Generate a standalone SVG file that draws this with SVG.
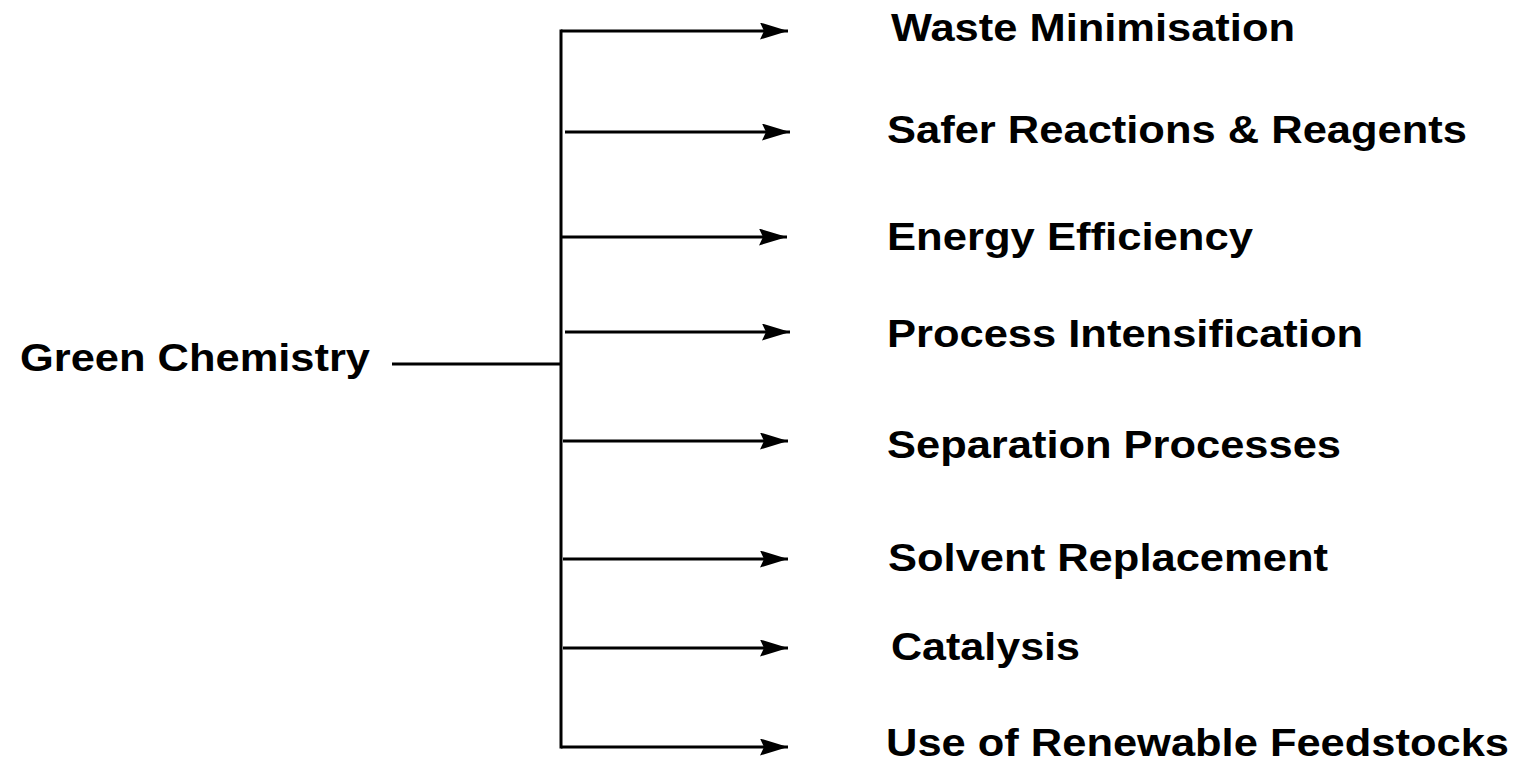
<svg xmlns="http://www.w3.org/2000/svg" width="1516" height="763" viewBox="0 0 1516 763">
<defs>
<style>
.lbl{font-family:"Liberation Sans",Arial,sans-serif;font-weight:bold;font-size:39px;fill:#000}
.ln{stroke:#000;stroke-width:3;fill:none}
.arr{stroke:#000;stroke-width:3;fill:none;marker-end:url(#ah)}
</style>
<marker id="ah" markerUnits="userSpaceOnUse" markerWidth="30" markerHeight="18" refX="28" refY="8.5" orient="auto" viewBox="0 0 30 18">
<path d="M0,0 L28,8.5 L0,17 L4,8.5 Z" fill="#000"/>
</marker>
</defs>
<rect width="1516" height="763" fill="#fff"/>
<g id="connectors">
<line class="ln" x1="392" y1="364" x2="561" y2="364"/>
<line class="ln" x1="561" y1="29.5" x2="561" y2="748.5"/>
<line class="arr" x1="561" y1="31" x2="788" y2="31"/>
<line class="arr" x1="565" y1="132" x2="790" y2="132"/>
<line class="arr" x1="560" y1="237" x2="787" y2="237"/>
<line class="arr" x1="565" y1="332" x2="790" y2="332"/>
<line class="arr" x1="563" y1="441" x2="788" y2="441"/>
<line class="arr" x1="563" y1="559" x2="788" y2="559"/>
<line class="arr" x1="563" y1="648" x2="788" y2="648"/>
<line class="arr" x1="561" y1="747" x2="788" y2="747"/>
</g>
<g id="n-root"><text class="lbl" x="20" y="371" textLength="350" lengthAdjust="spacingAndGlyphs">Green Chemistry</text></g>
<g id="n-waste"><text class="lbl" x="891" y="41" textLength="404" lengthAdjust="spacingAndGlyphs">Waste Minimisation</text></g>
<g id="n-safer"><text class="lbl" x="887" y="143" textLength="580" lengthAdjust="spacingAndGlyphs">Safer Reactions &amp; Reagents</text></g>
<g id="n-energy"><text class="lbl" x="887" y="250" textLength="366" lengthAdjust="spacingAndGlyphs">Energy Efficiency</text></g>
<g id="n-process"><text class="lbl" x="887" y="347" textLength="476" lengthAdjust="spacingAndGlyphs">Process Intensification</text></g>
<g id="n-separation"><text class="lbl" x="887" y="458" textLength="454" lengthAdjust="spacingAndGlyphs">Separation Processes</text></g>
<g id="n-solvent"><text class="lbl" x="888" y="571" textLength="440" lengthAdjust="spacingAndGlyphs">Solvent Replacement</text></g>
<g id="n-catalysis"><text class="lbl" x="891" y="660" textLength="189" lengthAdjust="spacingAndGlyphs">Catalysis</text></g>
<g id="n-renewable"><text class="lbl" x="886" y="756" textLength="623" lengthAdjust="spacingAndGlyphs">Use of Renewable Feedstocks</text></g>
</svg>
